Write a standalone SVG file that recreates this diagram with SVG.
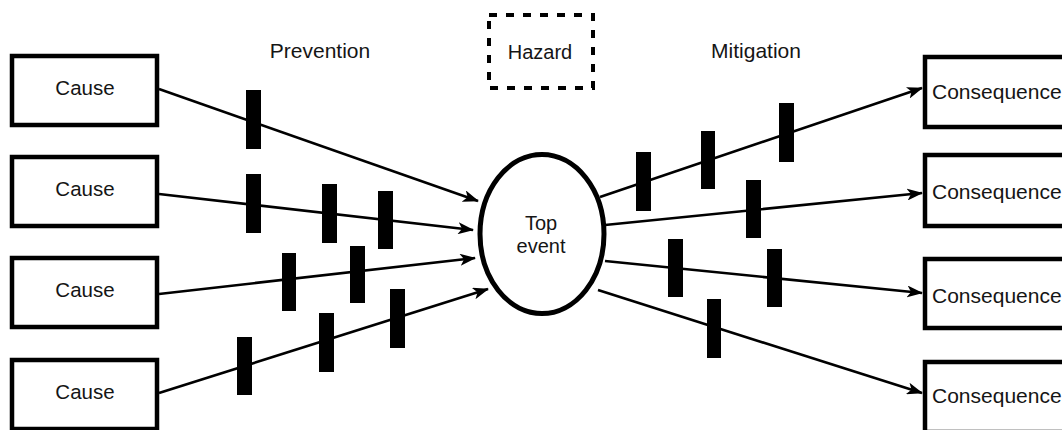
<svg xmlns="http://www.w3.org/2000/svg" width="1062" height="430" viewBox="0 0 1062 430">
  <style>
    .box { fill: #fff; stroke: #000; stroke-width: 4.5; }
    .hazard { fill: #fff; stroke: #000; stroke-width: 4; stroke-dasharray: 8 9; }
    .event { fill: #fff; stroke: #000; stroke-width: 5; }
    .link { fill: none; stroke: #000; stroke-width: 2.6; marker-end: url(#arrow); }
    .barrier { fill: #000; }
    text { font-family: "Liberation Sans", Arial, sans-serif; font-size: 20px; fill: #151515; text-anchor: middle; }
    .section { font-size: 21px; }
    .cause { font-size: 20.5px; }
    .cons { font-size: 21px; text-anchor: start; }
  </style>
  <defs>
    <marker id="arrow" viewBox="0 0 16 12" refX="15" refY="6" markerWidth="16" markerHeight="12" markerUnits="userSpaceOnUse" orient="auto">
      <path d="M0,0 L16,6 L0,12 L4,6 z" fill="#000"/>
    </marker>
  </defs>

  <rect width="1062" height="430" fill="#fff"/>

  <!-- section labels -->
  <text class="section" x="320" y="57.5">Prevention</text>
  <text class="section" x="756" y="57.5">Mitigation</text>

  <!-- connectors from causes into the top event and out to consequences -->
  <g id="connectors">
    <path class="link" d="M159,89 L478,201"/>
    <path class="link" d="M159,194 L473,230"/>
    <path class="link" d="M159,294 L475,258"/>
    <path class="link" d="M159,393 L488,289"/>
    <path class="link" d="M600,197 L922,88"/>
    <path class="link" d="M605,225 L922,193"/>
    <path class="link" d="M605,261 L922,293"/>
    <path class="link" d="M598,290 L922,393"/>
  </g>

  <!-- barriers on each path -->
  <g id="barriers">
    <rect class="barrier" x="246" y="90" width="15" height="59"/>
    <rect class="barrier" x="246" y="174" width="15" height="59"/>
    <rect class="barrier" x="322" y="184" width="15" height="59"/>
    <rect class="barrier" x="378" y="191" width="15" height="58"/>
    <rect class="barrier" x="282" y="253" width="14" height="58"/>
    <rect class="barrier" x="350" y="246" width="15" height="57"/>
    <rect class="barrier" x="390" y="289" width="15" height="59"/>
    <rect class="barrier" x="319" y="313" width="15" height="59"/>
    <rect class="barrier" x="237" y="337" width="15" height="58"/>
    <rect class="barrier" x="636" y="152" width="15" height="59"/>
    <rect class="barrier" x="701" y="131" width="14" height="58"/>
    <rect class="barrier" x="779" y="103" width="15" height="59"/>
    <rect class="barrier" x="746" y="180" width="15" height="58"/>
    <rect class="barrier" x="668" y="239" width="15" height="58"/>
    <rect class="barrier" x="767" y="249" width="15" height="58"/>
    <rect class="barrier" x="707" y="299" width="14" height="59"/>
  </g>

  <g id="hazard">
    <rect class="hazard" x="489" y="15" width="104" height="73"/>
    <text x="540" y="59">Hazard</text>
  </g>

  <g id="top-event">
    <ellipse class="event" cx="542" cy="234" rx="62" ry="79.5"/>
    <text x="541" y="230">Top</text>
    <text x="541" y="253">event</text>
  </g>

  <g id="cause-1">
    <rect class="box" x="12" y="56" width="145" height="69"/>
    <text class="cause" x="85" y="95">Cause</text>
  </g>
  <g id="cause-2">
    <rect class="box" x="12" y="157" width="145" height="69"/>
    <text class="cause" x="85" y="196">Cause</text>
  </g>
  <g id="cause-3">
    <rect class="box" x="12" y="258" width="145" height="69"/>
    <text class="cause" x="85" y="297">Cause</text>
  </g>
  <g id="cause-4">
    <rect class="box" x="12" y="360" width="145" height="69"/>
    <text class="cause" x="85" y="399">Cause</text>
  </g>

  <g id="consequence-1">
    <rect class="box" x="925" y="57" width="200" height="70"/>
    <text class="cons" x="932" y="99">Consequence</text>
  </g>
  <g id="consequence-2">
    <rect class="box" x="925" y="155" width="200" height="71"/>
    <text class="cons" x="932" y="199">Consequence</text>
  </g>
  <g id="consequence-3">
    <rect class="box" x="925" y="259" width="200" height="69"/>
    <text class="cons" x="932" y="303">Consequence</text>
  </g>
  <g id="consequence-4">
    <rect class="box" x="925" y="362" width="200" height="70"/>
    <text class="cons" x="932" y="403">Consequence</text>
  </g>
</svg>
